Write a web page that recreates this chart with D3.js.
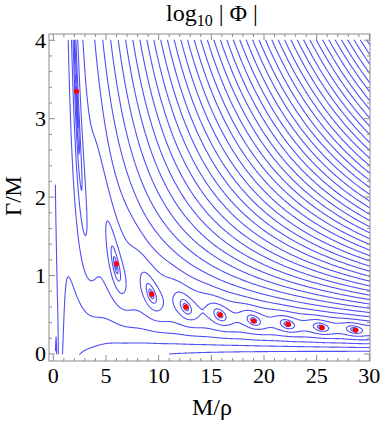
<!DOCTYPE html>
<html>
<head>
<meta charset="utf-8">
<script src="https://cdn.jsdelivr.net/npm/d3@7"></script>
<style>
  body { margin: 0; background: #fff; }
  text { font-family: "Liberation Serif", "Times New Roman", serif; fill: #000; }
</style>
</head>
<body>
<div id="chart"></div>
<script>
// zeros of Phi (red points)
const zeroX = [2.2, 6.0, 9.35, 12.6, 15.85, 19.0, 22.3, 25.5, 28.7];
const zeroY = [3.35, 1.15, 0.76, 0.6, 0.5, 0.42, 0.38, 0.335, 0.305];
const xTicks = [0, 5, 10, 15, 20, 25, 30];
const yTicks = [0, 1, 2, 3, 4];
// contour levels of log10|Phi|
const levels = d3.range(-2.33, 14.3, 0.31);
// field parameters: Phi = w^-p (e^{iw} - e^{-iw}(1 + i c w^2)), w = x sqrt(1 - i y)
const coupling = 7.4, power = 1.5;
const xDomain = [0.2, 30], yDomain = [0, 4];

const width = 382, height = 424;
const margin = { top: 34, right: 12, bottom: 63, left: 49 };

const svg = d3.select('#chart').append('svg')
  .attr('width', width)
  .attr('height', height);

const x = d3.scaleLinear().domain([-0.41, 30.06]).range([margin.left, width - margin.right]);
const y = d3.scaleLinear().domain([-0.09, 4.08]).range([height - margin.bottom, margin.top]);

const logPhi = (mx, gyv) => {
  const m = Math.sqrt(Math.hypot(1, gyv)), th = Math.atan2(-gyv, 1) / 2;
  const wr = mx * m * Math.cos(th), wi = mx * m * Math.sin(th);
  const ep = Math.exp(-wi), em = Math.exp(wi);
  const a = [ep * Math.cos(wr), ep * Math.sin(wr)];       // e^{iw}
  const b = [em * Math.cos(wr), -em * Math.sin(wr)];      // e^{-iw}
  const w2 = [wr * wr - wi * wi, 2 * wr * wi];
  const f = [1 - coupling * w2[1], coupling * w2[0]];     // 1 + i c w^2
  const re = a[0] - (b[0] * f[0] - b[1] * f[1]);
  const im = a[1] - (b[0] * f[1] + b[1] * f[0]);
  return Math.log10(Math.hypot(re, im)) - power * Math.log10(Math.hypot(wr, wi));
};

const nx = 480, ny = 320;
const gx = d3.scaleLinear().domain([0.5, nx - 0.5]).range(xDomain).clamp(true);
const gy = d3.scaleLinear().domain([0.5, ny - 0.5]).range(yDomain).clamp(true);
const values = new Float64Array(nx * ny);
for (let j = 0; j < ny; j++) {
  for (let i = 0; i < nx; i++) {
    values[j * nx + i] = logPhi(gx(i + 0.5), gy(j + 0.5));
  }
}

const contours = d3.contours().size([nx, ny]).thresholds(levels)(values);

// turn the filled rings into open lines, dropping edges that run along the grid border
const onEdge = (p, q) => (p[0] <= 0 && q[0] <= 0) || (p[0] >= nx && q[0] >= nx) ||
  (p[1] <= 0 && q[1] <= 0) || (p[1] >= ny && q[1] >= ny);
const lines = [];
contours.forEach((c) => {
  c.coordinates.forEach((poly) => {
    poly.forEach((ring) => {
      let cur = [];
      for (let k = 1; k < ring.length; k++) {
        const p = ring[k - 1], q = ring[k];
        if (onEdge(p, q)) {
          if (cur.length > 1) lines.push(cur);
          cur = [];
        } else {
          if (!cur.length) cur.push(p);
          cur.push(q);
        }
      }
      if (cur.length > 1) lines.push(cur);
    });
  });
});

svg.append('clipPath').attr('id', 'frame-clip')
  .append('rect')
  .attr('x', margin.left).attr('y', margin.top)
  .attr('width', width - margin.left - margin.right)
  .attr('height', height - margin.top - margin.bottom);

const line = d3.line()
  .x((p) => x(gx(p[0])))
  .y((p) => y(gy(p[1])));

svg.append('g')
  .attr('class', 'contours')
  .attr('clip-path', 'url(#frame-clip)')
  .selectAll('path')
  .data(lines)
  .enter()
  .append('path')
  .attr('d', line)
  .attr('fill', 'none')
  .attr('stroke', '#5050f6')
  .attr('stroke-width', 1.1);

svg.append('g')
  .attr('class', 'zeros')
  .selectAll('circle')
  .data(zeroX)
  .enter()
  .append('circle')
  .attr('cx', (d) => x(d))
  .attr('cy', (d, i) => y(zeroY[i]))
  .attr('r', 2.6)
  .attr('fill', '#f00');

// frame with inward ticks
const frameColor = '#8c8c8c';
const fLeft = margin.left, fRight = width - margin.right;
const fTop = margin.top, fBottom = height - margin.bottom;
const ticks = svg.append('g').attr('stroke', frameColor).attr('stroke-width', 1);
d3.range(0, 31, 1).forEach((t) => {
  const len = t % 5 === 0 ? 6 : 3;
  ticks.append('line').attr('x1', x(t)).attr('x2', x(t)).attr('y1', fBottom).attr('y2', fBottom - len);
  ticks.append('line').attr('x1', x(t)).attr('x2', x(t)).attr('y1', fTop).attr('y2', fTop + len);
});
d3.range(0, 4.01, 0.2).forEach((t) => {
  const len = Math.abs(t - Math.round(t)) < 1e-6 ? 6 : 3;
  ticks.append('line').attr('y1', y(t)).attr('y2', y(t)).attr('x1', fLeft).attr('x2', fLeft + len);
  ticks.append('line').attr('y1', y(t)).attr('y2', y(t)).attr('x1', fRight).attr('x2', fRight - len);
});
svg.append('rect')
  .attr('x', fLeft).attr('y', fTop)
  .attr('width', fRight - fLeft).attr('height', fBottom - fTop)
  .attr('fill', 'none').attr('stroke', frameColor).attr('stroke-width', 1);

svg.append('g').selectAll('text')
  .data(xTicks)
  .enter()
  .append('text')
  .attr('x', (d) => x(d))
  .attr('y', 383)
  .attr('text-anchor', 'middle')
  .attr('font-size', 22)
  .text((d) => d);

svg.append('g').selectAll('text')
  .data(yTicks)
  .enter()
  .append('text')
  .attr('x', 46)
  .attr('y', (d) => y(d) + 7.5)
  .attr('text-anchor', 'end')
  .attr('font-size', 22)
  .text((d) => d);

const title = svg.append('text')
  .attr('x', 212).attr('y', 21)
  .attr('text-anchor', 'middle')
  .attr('font-size', 24);
title.append('tspan').text('log');
title.append('tspan').attr('font-size', 16).attr('dy', 5).text('10');
title.append('tspan').attr('dy', -5).text(' | Φ |');

svg.append('text')
  .attr('x', 212).attr('y', 415)
  .attr('text-anchor', 'middle')
  .attr('font-size', 24)
  .text('M/ρ');

svg.append('text')
  .attr('transform', 'translate(21,196) rotate(-90)')
  .attr('text-anchor', 'middle')
  .attr('font-size', 23)
  .text('Γ/M');
</script>
</body>
</html>
